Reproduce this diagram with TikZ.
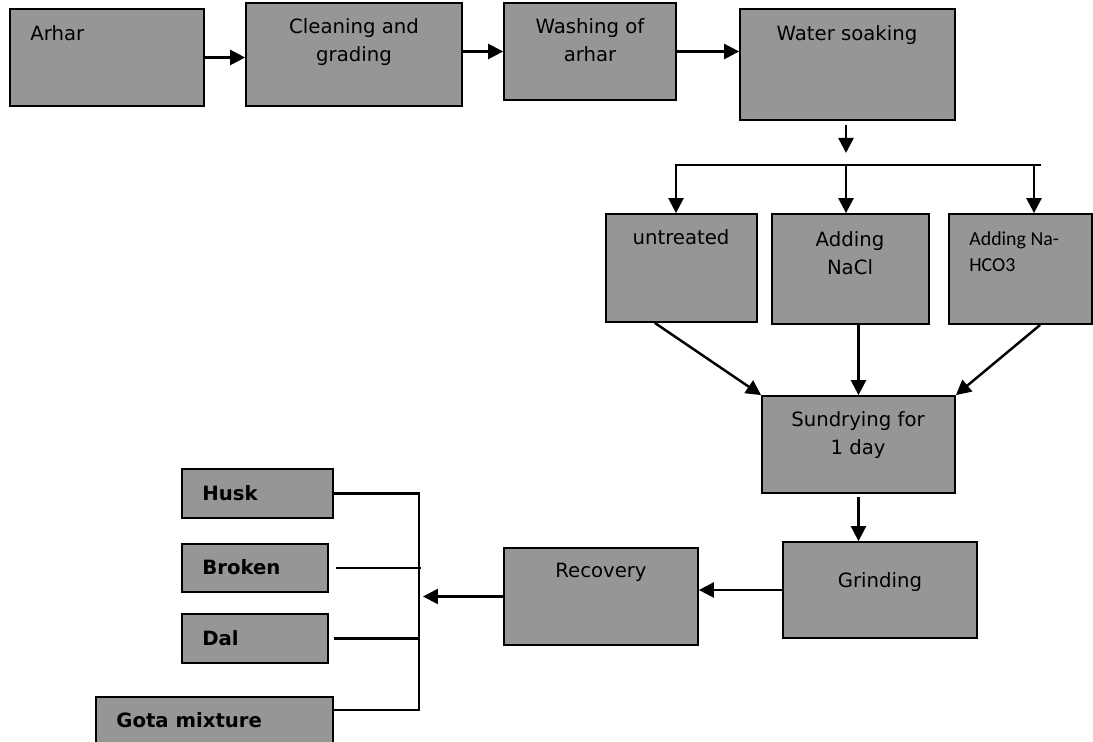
\documentclass[tikz,border=0pt]{standalone}
\usepackage{fontspec}
\setmainfont{DejaVu Sans}
\newfontfamily\calfont{Carlito}
\usepackage{xcolor}
\usetikzlibrary{arrows.meta,positioning,fit,calc}
\definecolor{boxgray}{RGB}{150,150,150}

\begin{document}
\begin{tikzpicture}[x=0.02cm, y=-0.02cm,
  font=\fontsize{11.2}{15.9}\selectfont,
  box/.style={draw, line width=1pt, fill=boxgray, inner sep=0pt},
  txt/.style={inner sep=0pt, align=center, anchor=north},
  lft/.style={inner sep=0pt, align=left, anchor=north west},
  prodtxt/.style={lft, font=\fontsize{11.2}{15.9}\selectfont\bfseries},
  arr/.style={-{Triangle[length=0.3cm,width=0.3cm]}, line width=1.4pt},
  ln/.style={line width=1.4pt}
]
\useasboundingbox (0,0) rectangle (1093,742);
\clip (0,0) rectangle (1093,742);

\node[box, fit={(10,9) (204,106)}] (arhar) {};
\node[box, fit={(246,3) (462,106)}] (clean) {};
\node[box, fit={(504,3) (676,100)}] (wash) {};
\node[box, fit={(740,9) (955,120)}] (soak) {};
\node[box, fit={(606,214) (757,322)}] (untr) {};
\node[box, fit={(772,214) (929,324)}] (nacl) {};
\node[box, fit={(949,214) (1092,324)}] (soda) {};
\node[box, fit={(762,396) (955,493)}] (sun) {};
\node[box, fit={(783,542) (977,638)}] (grind) {Grinding};
\node[box, fit={(504,548) (698,645)}] (recov) {};
\node[box, fit={(182,469) (333,518)}] (husk) {};
\node[box, fit={(182,544) (328,592)}] (brok) {};
\node[box, fit={(182,614) (328,663)}] (dal) {};
\node[box, fit={(96,697) (333,770)}] (gota) {};

\node[lft] (t-arhar) at (30,25) {Arhar};
\node[txt] (t-clean) at (354,18) {Cleaning and\\grading};
\node[txt] (t-wash) at (590,18) {Washing of\\arhar};
\node[txt] (t-soak) at (847,25) {Water soaking};
\node[txt] (t-untr) at (681,229) {untreated};
\node[txt] (t-nacl) at (850,231) {Adding\\NaCl};
\node[lft, font=\calfont\fontsize{11.3}{14.8}\selectfont] (t-soda) at (969,231) {Adding Na-\\HCO3};
\node[txt] (t-sun) at (858,411) {Sundrying for\\1 day};
\node[txt] (t-recov) at (601,563) {Recovery};
\node[prodtxt] (t-husk) at (202,485) {Husk};
\node[prodtxt] (t-brok) at (202,559) {Broken};
\node[prodtxt] (t-dal) at (202,630) {Dal};
\node[prodtxt] (t-gota) at (116,712) {Gota mixture};

\coordinate (split) at (846,165);
\coordinate (bl) at (676,165);
\coordinate (br) at (1041,165);
\coordinate (bs) at (1034,165);
\coordinate (join) at (419,598);
\coordinate (gl) at ([yshift=-0.28cm]gota.north east);

\draw[arr] (arhar.east) -- (arhar.east -| clean.west);
\draw[arr] (clean.east |- wash.west) -- (wash.west);
\draw[arr] (wash.east) -- (wash.east -| soak.west);
\draw[arr] ([yshift=-0.08cm]soak.south -| split) -- ([yshift=0.24cm]split);
\draw[arr] (br) -- (bl) -- (bl |- untr.north);
\draw[arr] (split) -- (split |- nacl.north);
\draw[arr] (bs) -- (bs |- soda.north);
\draw[arr] ($(untr.south west)!0.325!(untr.south east)$) -- (sun.north west);
\draw[arr] (sun.north |- nacl.south) -- (sun.north);
\draw[arr] ($(soda.south west)!0.636!(soda.south east)$) -- (sun.north east);
\draw[arr] ([yshift=-0.06cm]sun.south) -- (sun.south |- grind.north);
\draw[arr] (grind.west) -- (grind.west -| recov.east);
\draw[arr] (recov.west) -- ([xshift=0.08cm]recov.west -| join);
\draw[ln] (husk.east) -- (husk.east -| join) -- (join |- gl) -- (gl);
\draw[ln] ([xshift=0.14cm]brok.east) -- ([xshift=0.04cm]brok.east -| join);
\draw[ln] ([xshift=0.1cm]dal.east) -- (dal.east -| join);
\end{tikzpicture}
\end{document}
